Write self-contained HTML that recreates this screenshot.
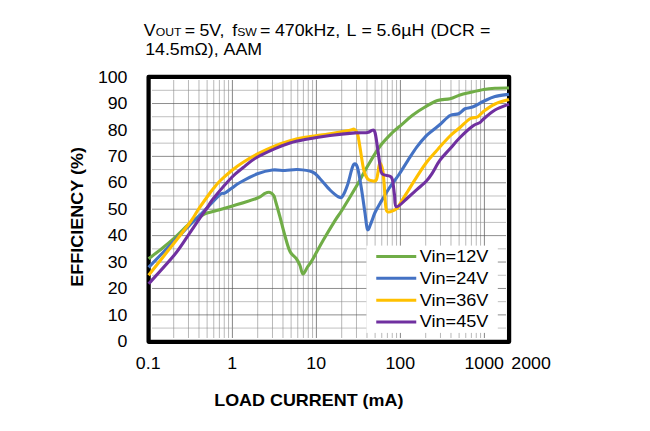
<!DOCTYPE html>
<html><head><meta charset="utf-8"><title>Efficiency</title>
<style>
html,body{margin:0;padding:0;background:#fff;}
body{width:650px;height:431px;position:relative;overflow:hidden;font-family:"Liberation Sans",sans-serif;}
.t{font-family:"Liberation Sans",sans-serif;fill:#000;}
</style></head><body>
<svg width="650" height="431" viewBox="0 0 650 431" style="position:absolute;left:0;top:0">
<rect width="650" height="431" fill="#fff"/>
<line x1="173.69" y1="80.0" x2="173.69" y2="338.0" stroke="#707070" stroke-width="0.5"/>
<line x1="188.48" y1="80.0" x2="188.48" y2="338.0" stroke="#707070" stroke-width="0.5"/>
<line x1="198.97" y1="80.0" x2="198.97" y2="338.0" stroke="#707070" stroke-width="0.5"/>
<line x1="207.11" y1="80.0" x2="207.11" y2="338.0" stroke="#707070" stroke-width="0.5"/>
<line x1="213.76" y1="80.0" x2="213.76" y2="338.0" stroke="#707070" stroke-width="0.5"/>
<line x1="219.39" y1="80.0" x2="219.39" y2="338.0" stroke="#707070" stroke-width="0.5"/>
<line x1="224.26" y1="80.0" x2="224.26" y2="338.0" stroke="#707070" stroke-width="0.5"/>
<line x1="228.56" y1="80.0" x2="228.56" y2="338.0" stroke="#707070" stroke-width="0.5"/>
<line x1="232.40" y1="80.0" x2="232.40" y2="338.0" stroke="#4c4c4c" stroke-width="0.68"/>
<line x1="257.69" y1="80.0" x2="257.69" y2="338.0" stroke="#707070" stroke-width="0.5"/>
<line x1="272.48" y1="80.0" x2="272.48" y2="338.0" stroke="#707070" stroke-width="0.5"/>
<line x1="282.97" y1="80.0" x2="282.97" y2="338.0" stroke="#707070" stroke-width="0.5"/>
<line x1="291.11" y1="80.0" x2="291.11" y2="338.0" stroke="#707070" stroke-width="0.5"/>
<line x1="297.76" y1="80.0" x2="297.76" y2="338.0" stroke="#707070" stroke-width="0.5"/>
<line x1="303.39" y1="80.0" x2="303.39" y2="338.0" stroke="#707070" stroke-width="0.5"/>
<line x1="308.26" y1="80.0" x2="308.26" y2="338.0" stroke="#707070" stroke-width="0.5"/>
<line x1="312.56" y1="80.0" x2="312.56" y2="338.0" stroke="#707070" stroke-width="0.5"/>
<line x1="316.40" y1="80.0" x2="316.40" y2="338.0" stroke="#4c4c4c" stroke-width="0.68"/>
<line x1="341.69" y1="80.0" x2="341.69" y2="338.0" stroke="#707070" stroke-width="0.5"/>
<line x1="356.48" y1="80.0" x2="356.48" y2="338.0" stroke="#707070" stroke-width="0.5"/>
<line x1="366.97" y1="80.0" x2="366.97" y2="338.0" stroke="#707070" stroke-width="0.5"/>
<line x1="375.11" y1="80.0" x2="375.11" y2="338.0" stroke="#707070" stroke-width="0.5"/>
<line x1="381.76" y1="80.0" x2="381.76" y2="338.0" stroke="#707070" stroke-width="0.5"/>
<line x1="387.39" y1="80.0" x2="387.39" y2="338.0" stroke="#707070" stroke-width="0.5"/>
<line x1="392.26" y1="80.0" x2="392.26" y2="338.0" stroke="#707070" stroke-width="0.5"/>
<line x1="396.56" y1="80.0" x2="396.56" y2="338.0" stroke="#707070" stroke-width="0.5"/>
<line x1="400.40" y1="80.0" x2="400.40" y2="338.0" stroke="#4c4c4c" stroke-width="0.68"/>
<line x1="425.69" y1="80.0" x2="425.69" y2="338.0" stroke="#707070" stroke-width="0.5"/>
<line x1="440.48" y1="80.0" x2="440.48" y2="338.0" stroke="#707070" stroke-width="0.5"/>
<line x1="450.97" y1="80.0" x2="450.97" y2="338.0" stroke="#707070" stroke-width="0.5"/>
<line x1="459.11" y1="80.0" x2="459.11" y2="338.0" stroke="#707070" stroke-width="0.5"/>
<line x1="465.76" y1="80.0" x2="465.76" y2="338.0" stroke="#707070" stroke-width="0.5"/>
<line x1="471.39" y1="80.0" x2="471.39" y2="338.0" stroke="#707070" stroke-width="0.5"/>
<line x1="476.26" y1="80.0" x2="476.26" y2="338.0" stroke="#707070" stroke-width="0.5"/>
<line x1="480.56" y1="80.0" x2="480.56" y2="338.0" stroke="#707070" stroke-width="0.5"/>
<line x1="484.40" y1="80.0" x2="484.40" y2="338.0" stroke="#4c4c4c" stroke-width="0.68"/>
<line x1="152.0" y1="328.09" x2="506.0" y2="328.09" stroke="#8c8c8c" stroke-width="0.55"/>
<line x1="152.0" y1="314.88" x2="506.0" y2="314.88" stroke="#525252" stroke-width="0.66"/>
<line x1="152.0" y1="301.67" x2="506.0" y2="301.67" stroke="#8c8c8c" stroke-width="0.55"/>
<line x1="152.0" y1="288.46" x2="506.0" y2="288.46" stroke="#525252" stroke-width="0.66"/>
<line x1="152.0" y1="275.25" x2="506.0" y2="275.25" stroke="#8c8c8c" stroke-width="0.55"/>
<line x1="152.0" y1="262.04" x2="506.0" y2="262.04" stroke="#525252" stroke-width="0.66"/>
<line x1="152.0" y1="248.83" x2="506.0" y2="248.83" stroke="#8c8c8c" stroke-width="0.55"/>
<line x1="152.0" y1="235.62" x2="506.0" y2="235.62" stroke="#525252" stroke-width="0.66"/>
<line x1="152.0" y1="222.41" x2="506.0" y2="222.41" stroke="#8c8c8c" stroke-width="0.55"/>
<line x1="152.0" y1="209.20" x2="506.0" y2="209.20" stroke="#525252" stroke-width="0.66"/>
<line x1="152.0" y1="195.99" x2="506.0" y2="195.99" stroke="#8c8c8c" stroke-width="0.55"/>
<line x1="152.0" y1="182.78" x2="506.0" y2="182.78" stroke="#525252" stroke-width="0.66"/>
<line x1="152.0" y1="169.57" x2="506.0" y2="169.57" stroke="#8c8c8c" stroke-width="0.55"/>
<line x1="152.0" y1="156.36" x2="506.0" y2="156.36" stroke="#525252" stroke-width="0.66"/>
<line x1="152.0" y1="143.15" x2="506.0" y2="143.15" stroke="#8c8c8c" stroke-width="0.55"/>
<line x1="152.0" y1="129.94" x2="506.0" y2="129.94" stroke="#525252" stroke-width="0.66"/>
<line x1="152.0" y1="116.73" x2="506.0" y2="116.73" stroke="#8c8c8c" stroke-width="0.55"/>
<line x1="152.0" y1="103.52" x2="506.0" y2="103.52" stroke="#525252" stroke-width="0.66"/>
<line x1="152.0" y1="90.31" x2="506.0" y2="90.31" stroke="#8c8c8c" stroke-width="0.55"/>
<rect x="366.4" y="245.6" width="131.4" height="87.3" fill="#fff"/>
<rect x="148.60" y="76.85" width="360.50" height="264.90" fill="none" stroke="#000" stroke-width="4.25" stroke-linejoin="round"/>
<path d="M148.60,258.70 C150.83,257.00 157.82,251.83 162.00,248.50 C166.18,245.17 169.28,242.70 173.70,238.70 C178.12,234.70 185.12,227.57 188.50,224.50 C191.88,221.43 192.08,221.58 194.00,220.30 C195.92,219.02 198.17,217.89 200.00,216.80 C201.83,215.71 202.50,214.72 205.00,213.75 C207.50,212.78 210.42,212.29 215.00,211.00 C219.58,209.71 225.42,208.17 232.50,206.00 C239.58,203.83 252.08,200.12 257.50,198.00 C262.92,195.88 262.92,194.23 265.00,193.30 C267.08,192.37 268.54,192.03 270.00,192.40 C271.46,192.77 272.83,194.07 273.75,195.50 C274.67,196.93 274.46,197.42 275.50,201.00 C276.54,204.58 278.42,211.17 280.00,217.00 C281.58,222.83 283.33,230.25 285.00,236.00 C286.67,241.75 288.12,247.75 290.00,251.50 C291.88,255.25 294.58,256.17 296.25,258.50 C297.92,260.83 298.89,262.92 300.00,265.50 C301.11,268.08 301.65,273.75 302.90,274.00 C304.15,274.25 305.97,269.28 307.50,267.00 C309.03,264.72 309.48,264.75 312.10,260.30 C314.72,255.85 319.38,246.92 323.20,240.30 C327.02,233.68 331.85,225.65 335.00,220.60 C338.15,215.55 338.43,215.88 342.10,210.00 C345.77,204.12 352.77,192.58 357.00,185.30 C361.23,178.02 363.67,172.81 367.50,166.30 C371.33,159.79 375.83,151.88 380.00,146.25 C384.17,140.62 388.83,136.16 392.50,132.50 C396.17,128.84 398.67,127.18 402.00,124.30 C405.33,121.42 408.67,118.08 412.50,115.20 C416.33,112.32 420.83,109.45 425.00,107.00 C429.17,104.55 433.33,101.88 437.50,100.50 C441.67,99.12 446.25,99.67 450.00,98.75 C453.75,97.83 456.67,96.04 460.00,95.00 C463.33,93.96 466.04,93.42 470.00,92.50 C473.96,91.58 479.58,90.20 483.75,89.50 C487.92,88.80 490.79,88.55 495.00,88.30 C499.21,88.05 506.67,88.05 509.00,88.00" fill="none" stroke="#70ad47" stroke-width="3.1" stroke-linejoin="round" stroke-linecap="butt"/>
<path d="M148.60,267.40 C152.78,263.08 167.05,248.35 173.70,241.50 C180.35,234.65 183.70,231.13 188.50,226.30 C193.30,221.47 199.33,215.63 202.50,212.50 C205.67,209.37 204.58,210.50 207.50,207.50 C210.42,204.50 217.08,196.92 220.00,194.50 C222.92,192.08 223.00,194.08 225.00,193.00 C227.00,191.92 229.50,189.75 232.00,188.00 C234.50,186.25 235.75,184.88 240.00,182.50 C244.25,180.12 252.08,175.83 257.50,173.75 C262.92,171.67 267.92,170.54 272.50,170.00 C277.08,169.46 280.83,170.58 285.00,170.50 C289.17,170.42 292.92,169.25 297.50,169.50 C302.08,169.75 308.75,170.46 312.50,172.00 C316.25,173.54 317.08,175.75 320.00,178.75 C322.92,181.75 326.88,186.96 330.00,190.00 C333.12,193.04 336.67,195.96 338.75,197.00 C340.83,198.04 341.04,198.25 342.50,196.25 C343.96,194.25 345.83,189.88 347.50,185.00 C349.17,180.12 351.17,170.50 352.50,167.00 C353.83,163.50 354.58,163.58 355.50,164.00 C356.42,164.42 357.04,165.58 358.00,169.50 C358.96,173.42 360.08,180.25 361.25,187.50 C362.42,194.75 363.96,206.00 365.00,213.00 C366.04,220.00 366.46,227.92 367.50,229.50 C368.54,231.08 370.00,225.33 371.25,222.50 C372.50,219.67 373.54,215.67 375.00,212.50 C376.46,209.33 377.62,207.58 380.00,203.50 C382.38,199.42 386.20,192.75 389.30,188.00 C392.40,183.25 395.52,179.57 398.60,175.00 C401.68,170.43 404.72,165.32 407.80,160.60 C410.88,155.88 414.00,150.87 417.10,146.70 C420.20,142.53 423.62,138.47 426.40,135.60 C429.18,132.73 431.53,131.35 433.80,129.50 C436.07,127.65 437.30,126.83 440.00,124.50 C442.70,122.17 446.88,117.29 450.00,115.50 C453.12,113.71 456.25,114.88 458.75,113.75 C461.25,112.62 462.71,109.88 465.00,108.75 C467.29,107.62 469.38,108.25 472.50,107.00 C475.62,105.75 480.00,102.98 483.75,101.25 C487.50,99.52 490.79,97.77 495.00,96.60 C499.21,95.42 506.67,94.60 509.00,94.20" fill="none" stroke="#4472c4" stroke-width="3.1" stroke-linejoin="round" stroke-linecap="butt"/>
<path d="M148.60,275.30 C152.78,270.00 167.05,251.97 173.70,243.50 C180.35,235.03 185.12,229.00 188.50,224.50 C191.88,220.00 192.32,219.08 194.00,216.50 C195.68,213.92 196.30,212.42 198.60,209.00 C200.90,205.58 205.30,199.45 207.80,196.00 C210.30,192.55 211.58,190.80 213.60,188.30 C215.62,185.80 216.82,184.02 219.90,181.00 C222.98,177.98 228.22,173.32 232.10,170.20 C235.98,167.08 238.97,165.00 243.20,162.30 C247.43,159.60 252.20,156.72 257.50,154.00 C262.80,151.28 269.58,148.20 275.00,146.00 C280.42,143.80 285.00,142.23 290.00,140.80 C295.00,139.37 298.33,138.58 305.00,137.40 C311.67,136.22 322.50,134.90 330.00,133.70 C337.50,132.50 345.92,130.93 350.00,130.20 C354.08,129.47 353.25,128.71 354.50,129.30 C355.75,129.89 356.58,130.72 357.50,133.75 C358.42,136.78 358.96,141.46 360.00,147.50 C361.04,153.54 362.50,164.79 363.75,170.00 C365.00,175.21 366.12,176.96 367.50,178.75 C368.88,180.54 370.50,180.62 372.00,180.75 C373.50,180.88 375.30,182.12 376.50,179.50 C377.70,176.88 378.45,167.50 379.20,165.00 C379.95,162.50 380.37,163.33 381.00,164.50 C381.63,165.67 382.45,168.42 383.00,172.00 C383.55,175.58 383.85,180.33 384.30,186.00 C384.75,191.67 385.10,201.68 385.70,206.00 C386.30,210.32 386.02,211.48 387.90,211.90 C389.78,212.32 395.07,209.73 397.00,208.50 C398.93,207.27 397.70,207.38 399.50,204.50 C401.30,201.62 404.87,195.88 407.80,191.20 C410.73,186.52 414.00,181.18 417.10,176.40 C420.20,171.62 423.30,166.60 426.40,162.50 C429.50,158.40 433.43,154.42 435.70,151.80 C437.97,149.18 437.62,149.43 440.00,146.80 C442.38,144.17 446.67,139.22 450.00,136.00 C453.33,132.78 456.67,130.38 460.00,127.50 C463.33,124.62 467.08,120.50 470.00,118.75 C472.92,117.00 475.21,118.25 477.50,117.00 C479.79,115.75 480.83,113.42 483.75,111.25 C486.67,109.08 490.79,105.94 495.00,104.00 C499.21,102.06 506.67,100.33 509.00,99.60" fill="none" stroke="#ffc000" stroke-width="3.1" stroke-linejoin="round" stroke-linecap="butt"/>
<path d="M148.60,283.80 C152.78,279.13 167.05,263.97 173.70,255.80 C180.35,247.63 184.28,240.88 188.50,234.80 C192.72,228.72 195.75,224.02 199.00,219.30 C202.25,214.58 205.57,210.02 208.00,206.50 C210.43,202.98 209.58,203.12 213.60,198.20 C217.62,193.28 227.17,182.12 232.10,177.00 C237.03,171.88 239.38,170.58 243.20,167.50 C247.02,164.42 249.70,161.63 255.00,158.50 C260.30,155.37 269.17,151.28 275.00,148.70 C280.83,146.12 285.00,144.52 290.00,143.00 C295.00,141.48 298.33,140.85 305.00,139.60 C311.67,138.35 321.67,136.62 330.00,135.50 C338.33,134.38 348.75,133.40 355.00,132.90 C361.25,132.40 364.62,132.95 367.50,132.50 C370.38,132.05 371.05,130.20 372.30,130.20 C373.55,130.20 374.13,129.62 375.00,132.50 C375.87,135.38 376.67,142.08 377.50,147.50 C378.33,152.92 379.25,160.62 380.00,165.00 C380.75,169.38 380.33,171.88 382.00,173.75 C383.67,175.62 388.25,175.21 390.00,176.25 C391.75,177.29 391.75,176.88 392.50,180.00 C393.25,183.12 393.83,190.53 394.50,195.00 C395.17,199.47 394.28,206.35 396.50,206.80 C398.72,207.25 404.37,200.60 407.80,197.70 C411.23,194.80 414.00,192.18 417.10,189.40 C420.20,186.62 423.92,183.63 426.40,181.00 C428.88,178.37 429.73,177.07 432.00,173.60 C434.27,170.13 437.00,164.33 440.00,160.20 C443.00,156.07 446.67,152.58 450.00,148.80 C453.33,145.02 456.25,141.26 460.00,137.50 C463.75,133.74 469.17,128.75 472.50,126.25 C475.83,123.75 478.12,123.75 480.00,122.50 C481.88,121.25 481.25,120.83 483.75,118.75 C486.25,116.67 490.79,112.44 495.00,110.00 C499.21,107.56 506.67,105.08 509.00,104.10" fill="none" stroke="#7030a0" stroke-width="3.1" stroke-linejoin="round" stroke-linecap="butt"/>
<line x1="376.25" y1="256.55" x2="416.25" y2="256.55" stroke="#70ad47" stroke-width="2.9"/>
<text transform="translate(419.80,261.95) scale(1.110,1)" font-size="16.3" class="t">Vin=12V</text>
<line x1="376.25" y1="278.30" x2="416.25" y2="278.30" stroke="#4472c4" stroke-width="2.9"/>
<text transform="translate(419.80,283.70) scale(1.110,1)" font-size="16.3" class="t">Vin=24V</text>
<line x1="376.25" y1="300.30" x2="416.25" y2="300.30" stroke="#ffc000" stroke-width="2.9"/>
<text transform="translate(419.80,305.70) scale(1.110,1)" font-size="16.3" class="t">Vin=36V</text>
<line x1="376.25" y1="322.05" x2="416.25" y2="322.05" stroke="#7030a0" stroke-width="2.9"/>
<text transform="translate(419.80,327.45) scale(1.110,1)" font-size="16.3" class="t">Vin=45V</text>
<text transform="translate(127.50,346.95) scale(1.110,1)" font-size="16" text-anchor="end" class="t">0</text>
<text transform="translate(127.50,320.53) scale(1.110,1)" font-size="16" text-anchor="end" class="t">10</text>
<text transform="translate(127.50,294.11) scale(1.110,1)" font-size="16" text-anchor="end" class="t">20</text>
<text transform="translate(127.50,267.69) scale(1.110,1)" font-size="16" text-anchor="end" class="t">30</text>
<text transform="translate(127.50,241.27) scale(1.110,1)" font-size="16" text-anchor="end" class="t">40</text>
<text transform="translate(127.50,214.85) scale(1.110,1)" font-size="16" text-anchor="end" class="t">50</text>
<text transform="translate(127.50,188.43) scale(1.110,1)" font-size="16" text-anchor="end" class="t">60</text>
<text transform="translate(127.50,162.01) scale(1.110,1)" font-size="16" text-anchor="end" class="t">70</text>
<text transform="translate(127.50,135.59) scale(1.110,1)" font-size="16" text-anchor="end" class="t">80</text>
<text transform="translate(127.50,109.17) scale(1.110,1)" font-size="16" text-anchor="end" class="t">90</text>
<text transform="translate(127.50,82.75) scale(1.110,1)" font-size="16" text-anchor="end" class="t">100</text>
<text transform="translate(148.20,368.70) scale(1.110,1)" font-size="16" text-anchor="middle" class="t">0.1</text>
<text transform="translate(232.20,368.70) scale(1.110,1)" font-size="16" text-anchor="middle" class="t">1</text>
<text transform="translate(316.20,368.70) scale(1.110,1)" font-size="16" text-anchor="middle" class="t">10</text>
<text transform="translate(400.20,368.70) scale(1.110,1)" font-size="16" text-anchor="middle" class="t">100</text>
<text transform="translate(484.20,368.70) scale(1.110,1)" font-size="16" text-anchor="middle" class="t">1000</text>
<text transform="translate(531.10,368.70) scale(1.110,1)" font-size="16" text-anchor="middle" class="t">2000</text>
<text transform="translate(308.80,405.60) scale(1.121,1)" font-size="16" text-anchor="middle" font-weight="bold" class="t">LOAD CURRENT (mA)</text>
<text transform="translate(83.10,216.90) rotate(-90) scale(1.126,1)" font-size="16" text-anchor="middle" font-weight="bold" class="t">EFFICIENCY (%)</text>
<text transform="translate(143.80,35.70) scale(1.110,1)" font-size="16" class="t">V<tspan font-size="11">OUT</tspan></text>
<text transform="translate(184.80,35.70) scale(1.110,1)" font-size="16" class="t">=</text>
<text transform="translate(199.40,35.70) scale(1.110,1)" font-size="16" class="t">5V,</text>
<text transform="translate(232.20,35.70) scale(1.110,1)" font-size="16" class="t">f<tspan font-size="11">SW</tspan></text>
<text transform="translate(260.10,35.70) scale(1.110,1)" font-size="16" class="t">=</text>
<text transform="translate(275.00,35.70) scale(1.110,1)" font-size="16" class="t">470kHz,</text>
<text transform="translate(346.40,35.70) scale(1.110,1)" font-size="16" class="t">L</text>
<text transform="translate(361.50,35.70) scale(1.110,1)" font-size="16" class="t">=</text>
<text transform="translate(376.50,35.70) scale(1.110,1)" font-size="16" class="t">5.6µH</text>
<text transform="translate(430.40,35.70) scale(1.110,1)" font-size="16" class="t">(DCR</text>
<text transform="translate(479.90,35.70) scale(1.110,1)" font-size="16" class="t">=</text>
<text transform="translate(145.20,55.20) scale(1.110,1)" font-size="16" class="t">14.5mΩ), AAM</text>
</svg>
</body></html>
